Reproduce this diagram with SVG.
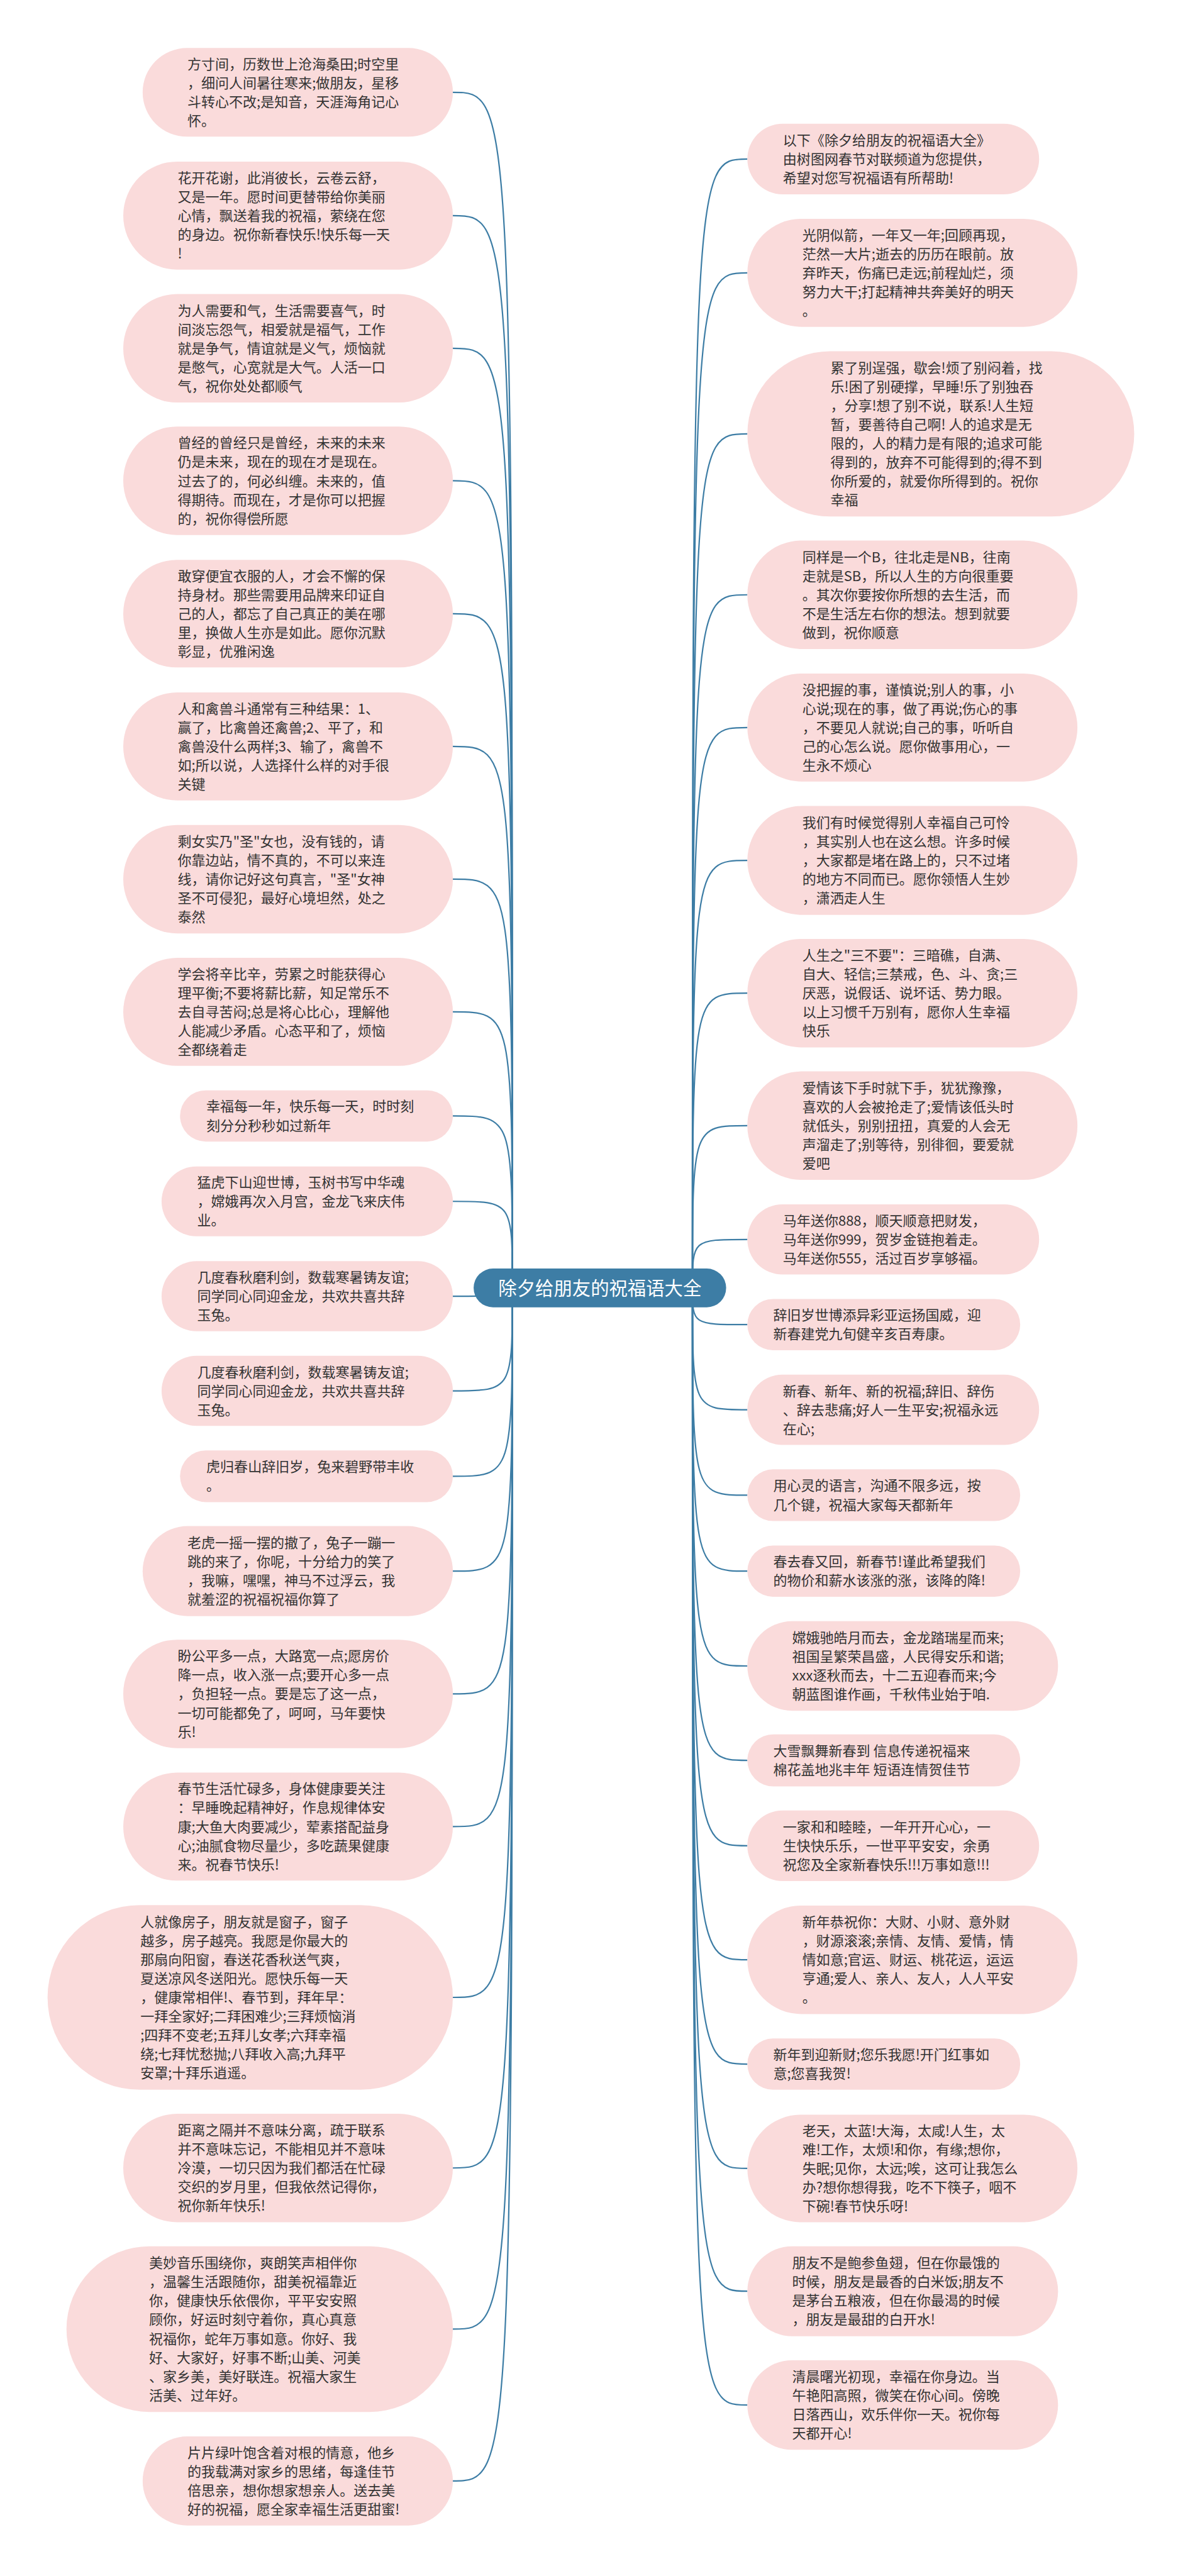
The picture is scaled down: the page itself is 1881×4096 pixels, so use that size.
<svg xmlns="http://www.w3.org/2000/svg" width="1881" height="4096" viewBox="0 0 1881 4096">
<style>
.n rect{fill:#fadbdb}
.n text{font-family:"Noto Sans CJK SC","Noto Sans",sans-serif;font-size:30px;fill:#333}
.c path{fill:none;stroke:#3d7da5;stroke-width:3}
#root rect{fill:#3d7da5}
#root text{font-family:"Noto Sans CJK SC","Noto Sans",sans-serif;font-size:40px;fill:#fff;text-anchor:middle}
</style>
<rect width="1881" height="4096" fill="#fff"/>
<g transform="scale(0.734)">
<g class="c" id="connectors">
<path d="M981,200C1110,200 1110,200 1110,2790"/>
<path d="M981,467C1110,467 1110,467 1110,2790"/>
<path d="M981,754.5C1110,754.5 1110,754.5 1110,2790"/>
<path d="M981,1041.5C1110,1041.5 1110,1041.5 1110,2790"/>
<path d="M981,1329.5C1110,1329.5 1110,1329.5 1110,2790"/>
<path d="M981,1617C1110,1617 1110,1617 1110,2790"/>
<path d="M981,1904.5C1110,1904.5 1110,1904.5 1110,2790"/>
<path d="M981,2192C1110,2192 1110,2192 1110,2790"/>
<path d="M981,2417.5C1110,2417.5 1110,2417.5 1110,2790"/>
<path d="M981,2602.5C1110,2602.5 1110,2602.5 1110,2790"/>
<path d="M981,2808C1110,2808 1110,2808 1110,2790"/>
<path d="M981,3013C1110,3013 1110,3013 1110,2790"/>
<path d="M981,3198C1110,3198 1110,3198 1110,2790"/>
<path d="M981,3403.5C1110,3403.5 1110,3403.5 1110,2790"/>
<path d="M981,3669.5C1110,3669.5 1110,3669.5 1110,2790"/>
<path d="M981,3957C1110,3957 1110,3957 1110,2790"/>
<path d="M981,4327C1110,4327 1110,4327 1110,2790"/>
<path d="M981,4696.5C1110,4696.5 1110,4696.5 1110,2790"/>
<path d="M981,5045.5C1110,5045.5 1110,5045.5 1110,2790"/>
<path d="M981,5374.5C1110,5374.5 1110,5374.5 1110,2790"/>
<path d="M1619,344.5C1500,344.5 1500,344.5 1500,2790"/>
<path d="M1619,591C1500,591 1500,591 1500,2790"/>
<path d="M1619,940C1500,940 1500,940 1500,2790"/>
<path d="M1619,1288.5C1500,1288.5 1500,1288.5 1500,2790"/>
<path d="M1619,1576C1500,1576 1500,1576 1500,2790"/>
<path d="M1619,1864C1500,1864 1500,1864 1500,2790"/>
<path d="M1619,2151.5C1500,2151.5 1500,2151.5 1500,2790"/>
<path d="M1619,2438.5C1500,2438.5 1500,2438.5 1500,2790"/>
<path d="M1619,2685C1500,2685 1500,2685 1500,2790"/>
<path d="M1619,2869.5C1500,2869.5 1500,2869.5 1500,2790"/>
<path d="M1619,3054C1500,3054 1500,3054 1500,2790"/>
<path d="M1619,3239C1500,3239 1500,3239 1500,2790"/>
<path d="M1619,3403.5C1500,3403.5 1500,3403.5 1500,2790"/>
<path d="M1619,3609C1500,3609 1500,3609 1500,2790"/>
<path d="M1619,3813.5C1500,3813.5 1500,3813.5 1500,2790"/>
<path d="M1619,3998.5C1500,3998.5 1500,3998.5 1500,2790"/>
<path d="M1619,4245.5C1500,4245.5 1500,4245.5 1500,2790"/>
<path d="M1619,4471.5C1500,4471.5 1500,4471.5 1500,2790"/>
<path d="M1619,4697.5C1500,4697.5 1500,4697.5 1500,2790"/>
<path d="M1619,4963.5C1500,4963.5 1500,4963.5 1500,2790"/>
<path d="M1619,5210C1500,5210 1500,5210 1500,2790"/>
</g>
<g id="root"><rect x="1026" y="2748" width="547" height="84" rx="42"/><text x="1299.5" y="2805">除夕给朋友的祝福语大全</text></g>

<g class="n" id="L1"><rect x="309" y="104" width="672" height="192" rx="96"/><text x="406" y="149.5"><tspan x="406">方寸间，历数世上沧海桑田;时空里</tspan><tspan x="406" dy="41">，细问人间暑往寒来;做朋友，星移</tspan><tspan x="406" dy="41">斗转心不改;是知音，天涯海角记心</tspan><tspan x="406" dy="41">怀。</tspan></text></g>
<g class="n" id="L2"><rect x="267" y="350" width="714" height="234" rx="117"/><text x="385" y="396"><tspan x="385">花开花谢，此消彼长，云卷云舒，</tspan><tspan x="385" dy="41">又是一年。愿时间更替带给你美丽</tspan><tspan x="385" dy="41">心情，飘送着我的祝福，萦绕在您</tspan><tspan x="385" dy="41">的身边。祝你新春快乐!快乐每一天</tspan><tspan x="385" dy="41">!</tspan></text></g>
<g class="n" id="L3"><rect x="267" y="637" width="714" height="235" rx="117"/><text x="385" y="683.5"><tspan x="385">为人需要和气，生活需要喜气，时</tspan><tspan x="385" dy="41">间淡忘怨气，相爱就是福气，工作</tspan><tspan x="385" dy="41">就是争气，情谊就是义气，烦恼就</tspan><tspan x="385" dy="41">是憋气，心宽就是大气。人活一口</tspan><tspan x="385" dy="41">气，祝你处处都顺气</tspan></text></g>
<g class="n" id="L4"><rect x="267" y="924" width="714" height="235" rx="117"/><text x="385" y="970.5"><tspan x="385">曾经的曾经只是曾经，未来的未来</tspan><tspan x="385" dy="41">仍是未来，现在的现在才是现在。</tspan><tspan x="385" dy="41">过去了的，何必纠缠。未来的，值</tspan><tspan x="385" dy="41">得期待。而现在，才是你可以把握</tspan><tspan x="385" dy="41">的，祝你得偿所愿</tspan></text></g>
<g class="n" id="L5"><rect x="267" y="1213" width="714" height="233" rx="116"/><text x="385" y="1258.5"><tspan x="385">敢穿便宜衣服的人，才会不懈的保</tspan><tspan x="385" dy="41">持身材。那些需要用品牌来印证自</tspan><tspan x="385" dy="41">己的人，都忘了自己真正的美在哪</tspan><tspan x="385" dy="41">里，换做人生亦是如此。愿你沉默</tspan><tspan x="385" dy="41">彰显，优雅闲逸</tspan></text></g>
<g class="n" id="L6"><rect x="267" y="1500" width="714" height="234" rx="117"/><text x="385" y="1546"><tspan x="385">人和禽兽斗通常有三种结果：1、</tspan><tspan x="385" dy="41">赢了，比禽兽还禽兽;2、平了，和</tspan><tspan x="385" dy="41">禽兽没什么两样;3、输了，禽兽不</tspan><tspan x="385" dy="41">如;所以说，人选择什么样的对手很</tspan><tspan x="385" dy="41">关键</tspan></text></g>
<g class="n" id="L7"><rect x="267" y="1787" width="714" height="235" rx="117"/><text x="385" y="1833.5"><tspan x="385">剩女实乃"圣"女也，没有钱的，请</tspan><tspan x="385" dy="41">你靠边站，情不真的，不可以来连</tspan><tspan x="385" dy="41">线，请你记好这句真言，"圣"女神</tspan><tspan x="385" dy="41">圣不可侵犯，最好心境坦然，处之</tspan><tspan x="385" dy="41">泰然</tspan></text></g>
<g class="n" id="L8"><rect x="267" y="2075" width="714" height="234" rx="117"/><text x="385" y="2121"><tspan x="385">学会将辛比辛，劳累之时能获得心</tspan><tspan x="385" dy="41">理平衡;不要将薪比薪，知足常乐不</tspan><tspan x="385" dy="41">去自寻苦闷;总是将心比心，理解他</tspan><tspan x="385" dy="41">人能减少矛盾。心态平和了，烦恼</tspan><tspan x="385" dy="41">全都绕着走</tspan></text></g>
<g class="n" id="L9"><rect x="390" y="2362" width="591" height="111" rx="55.5"/><text x="447" y="2408"><tspan x="447">幸福每一年，快乐每一天，时时刻</tspan><tspan x="447" dy="41">刻分分秒秒如过新年</tspan></text></g>
<g class="n" id="L10"><rect x="350" y="2527" width="631" height="151" rx="75.5"/><text x="427" y="2572.5"><tspan x="427">猛虎下山迎世博，玉树书写中华魂</tspan><tspan x="427" dy="41">，嫦娥再次入月宫，金龙飞来庆伟</tspan><tspan x="427" dy="41">业。</tspan></text></g>
<g class="n" id="L11"><rect x="350" y="2732" width="631" height="152" rx="76"/><text x="427" y="2778"><tspan x="427">几度春秋磨利剑，数载寒暑铸友谊;</tspan><tspan x="427" dy="41">同学同心同迎金龙，共欢共喜共辞</tspan><tspan x="427" dy="41">玉兔。</tspan></text></g>
<g class="n" id="L12"><rect x="350" y="2937" width="631" height="152" rx="76"/><text x="427" y="2983"><tspan x="427">几度春秋磨利剑，数载寒暑铸友谊;</tspan><tspan x="427" dy="41">同学同心同迎金龙，共欢共喜共辞</tspan><tspan x="427" dy="41">玉兔。</tspan></text></g>
<g class="n" id="L13"><rect x="390" y="3142" width="591" height="112" rx="56"/><text x="447" y="3188.5"><tspan x="447">虎归春山辞旧岁，兔来碧野带丰收</tspan><tspan x="447" dy="41">。</tspan></text></g>
<g class="n" id="L14"><rect x="309" y="3306" width="672" height="195" rx="97.5"/><text x="406" y="3353"><tspan x="406">老虎一摇一摆的撤了，兔子一蹦一</tspan><tspan x="406" dy="41">跳的来了，你呢，十分给力的笑了</tspan><tspan x="406" dy="41">，我嘛，嘿嘿，神马不过浮云，我</tspan><tspan x="406" dy="41">就羞涩的祝福祝福你算了</tspan></text></g>
<g class="n" id="L15"><rect x="267" y="3552" width="714" height="235" rx="117"/><text x="385" y="3598.5"><tspan x="385">盼公平多一点，大路宽一点;愿房价</tspan><tspan x="385" dy="41">降一点，收入涨一点;要开心多一点</tspan><tspan x="385" dy="41">，负担轻一点。要是忘了这一点，</tspan><tspan x="385" dy="41">一切可能都免了，呵呵，马年要快</tspan><tspan x="385" dy="41">乐!</tspan></text></g>
<g class="n" id="L16"><rect x="267" y="3840" width="714" height="234" rx="117"/><text x="385" y="3886"><tspan x="385">春节生活忙碌多，身体健康要关注</tspan><tspan x="385" dy="41">：早睡晚起精神好，作息规律体安</tspan><tspan x="385" dy="41">康;大鱼大肉要减少，荤素搭配益身</tspan><tspan x="385" dy="41">心;油腻食物尽量少，多吃蔬果健康</tspan><tspan x="385" dy="41">来。祝春节快乐!</tspan></text></g>
<g class="n" id="L17"><rect x="103" y="4127" width="878" height="400" rx="200"/><text x="304" y="4174"><tspan x="304">人就像房子，朋友就是窗子，窗子</tspan><tspan x="304" dy="41">越多，房子越亮。我愿是你最大的</tspan><tspan x="304" dy="41">那扇向阳窗，春送花香秋送气爽，</tspan><tspan x="304" dy="41">夏送凉风冬送阳光。愿快乐每一天</tspan><tspan x="304" dy="41">，健康常相伴!、春节到，拜年早：</tspan><tspan x="304" dy="41">一拜全家好;二拜困难少;三拜烦恼消</tspan><tspan x="304" dy="41">;四拜不变老;五拜儿女孝;六拜幸福</tspan><tspan x="304" dy="41">绕;七拜忧愁抛;八拜收入高;九拜平</tspan><tspan x="304" dy="41">安罩;十拜乐逍遥。</tspan></text></g>
<g class="n" id="L18"><rect x="267" y="4579" width="714" height="235" rx="117"/><text x="385" y="4625.5"><tspan x="385">距离之隔并不意味分离，疏于联系</tspan><tspan x="385" dy="41">并不意味忘记，不能相见并不意味</tspan><tspan x="385" dy="41">冷漠，一切只因为我们都活在忙碌</tspan><tspan x="385" dy="41">交织的岁月里，但我依然记得你，</tspan><tspan x="385" dy="41">祝你新年快乐!</tspan></text></g>
<g class="n" id="L19"><rect x="144" y="4866" width="837" height="359" rx="179.5"/><text x="323" y="4913"><tspan x="323">美妙音乐围绕你，爽朗笑声相伴你</tspan><tspan x="323" dy="41">，温馨生活跟随你，甜美祝福靠近</tspan><tspan x="323" dy="41">你，健康快乐依偎你，平平安安照</tspan><tspan x="323" dy="41">顾你，好运时刻守着你，真心真意</tspan><tspan x="323" dy="41">祝福你，蛇年万事如意。你好、我</tspan><tspan x="323" dy="41">好、大家好，好事不断;山美、河美</tspan><tspan x="323" dy="41">、家乡美，美好联连。祝福大家生</tspan><tspan x="323" dy="41">活美、过年好。</tspan></text></g>
<g class="n" id="L20"><rect x="309" y="5278" width="672" height="193" rx="96.5"/><text x="406" y="5324"><tspan x="406">片片绿叶饱含着对根的情意，他乡</tspan><tspan x="406" dy="41">的我载满对家乡的思绪，每逢佳节</tspan><tspan x="406" dy="41">倍思亲，想你想家想亲人。送去美</tspan><tspan x="406" dy="41">好的祝福，愿全家幸福生活更甜蜜!</tspan></text></g>

<g class="n" id="R1"><rect x="1619" y="268" width="632" height="153" rx="76.5"/><text x="1696" y="314.5"><tspan x="1696">以下《除夕给朋友的祝福语大全》</tspan><tspan x="1696" dy="41">由树图网春节对联频道为您提供，</tspan><tspan x="1696" dy="41">希望对您写祝福语有所帮助!</tspan></text></g>
<g class="n" id="R2"><rect x="1619" y="474" width="715" height="234" rx="117"/><text x="1738" y="520"><tspan x="1738">光阴似箭，一年又一年;回顾再现，</tspan><tspan x="1738" dy="41">茫然一大片;逝去的历历在眼前。放</tspan><tspan x="1738" dy="41">弃昨天，伤痛已走远;前程灿烂，须</tspan><tspan x="1738" dy="41">努力大干;打起精神共奔美好的明天</tspan><tspan x="1738" dy="41">。</tspan></text></g>
<g class="n" id="R3"><rect x="1619" y="761" width="838" height="358" rx="179"/><text x="1799" y="807.5"><tspan x="1799">累了别逞强，歇会!烦了别闷着，找</tspan><tspan x="1799" dy="41">乐!困了别硬撑，早睡!乐了别独吞</tspan><tspan x="1799" dy="41">，分享!想了别不说，联系!人生短</tspan><tspan x="1799" dy="41">暂，要善待自己啊! 人的追求是无</tspan><tspan x="1799" dy="41">限的，人的精力是有限的;追求可能</tspan><tspan x="1799" dy="41">得到的，放弃不可能得到的;得不到</tspan><tspan x="1799" dy="41">你所爱的，就爱你所得到的。祝你</tspan><tspan x="1799" dy="41">幸福</tspan></text></g>
<g class="n" id="R4"><rect x="1619" y="1171" width="715" height="235" rx="117"/><text x="1738" y="1217.5"><tspan x="1738">同样是一个B，往北走是NB，往南</tspan><tspan x="1738" dy="41">走就是SB，所以人生的方向很重要</tspan><tspan x="1738" dy="41">。其次你要按你所想的去生活，而</tspan><tspan x="1738" dy="41">不是生活左右你的想法。想到就要</tspan><tspan x="1738" dy="41">做到，祝你顺意</tspan></text></g>
<g class="n" id="R5"><rect x="1619" y="1459" width="715" height="234" rx="117"/><text x="1738" y="1505"><tspan x="1738">没把握的事，谨慎说;别人的事，小</tspan><tspan x="1738" dy="41">心说;现在的事，做了再说;伤心的事</tspan><tspan x="1738" dy="41">，不要见人就说;自己的事，听听自</tspan><tspan x="1738" dy="41">己的心怎么说。愿你做事用心，一</tspan><tspan x="1738" dy="41">生永不烦心</tspan></text></g>
<g class="n" id="R6"><rect x="1619" y="1746" width="715" height="236" rx="118"/><text x="1738" y="1793"><tspan x="1738">我们有时候觉得别人幸福自己可怜</tspan><tspan x="1738" dy="41">，其实别人也在这么想。许多时候</tspan><tspan x="1738" dy="41">，大家都是堵在路上的，只不过堵</tspan><tspan x="1738" dy="41">的地方不同而已。愿你领悟人生妙</tspan><tspan x="1738" dy="41">，潇洒走人生</tspan></text></g>
<g class="n" id="R7"><rect x="1619" y="2034" width="715" height="235" rx="117"/><text x="1738" y="2080.5"><tspan x="1738">人生之"三不要"：三暗礁，自满、</tspan><tspan x="1738" dy="41">自大、轻信;三禁戒，色、斗、贪;三</tspan><tspan x="1738" dy="41">厌恶，说假话、说坏话、势力眼。</tspan><tspan x="1738" dy="41">以上习惯千万别有，愿你人生幸福</tspan><tspan x="1738" dy="41">快乐</tspan></text></g>
<g class="n" id="R8"><rect x="1619" y="2321" width="715" height="235" rx="117"/><text x="1738" y="2367.5"><tspan x="1738">爱情该下手时就下手，犹犹豫豫，</tspan><tspan x="1738" dy="41">喜欢的人会被抢走了;爱情该低头时</tspan><tspan x="1738" dy="41">就低头，别别扭扭，真爱的人会无</tspan><tspan x="1738" dy="41">声溜走了;别等待，别徘徊，要爱就</tspan><tspan x="1738" dy="41">爱吧</tspan></text></g>
<g class="n" id="R9"><rect x="1619" y="2609" width="632" height="152" rx="76"/><text x="1696" y="2655"><tspan x="1696">马年送你888，顺天顺意把财发，</tspan><tspan x="1696" dy="41">马年送你999，贺岁金链抱着走。</tspan><tspan x="1696" dy="41">马年送你555，活过百岁享够福。</tspan></text></g>
<g class="n" id="R10"><rect x="1619" y="2814" width="591" height="111" rx="55.5"/><text x="1675" y="2860"><tspan x="1675">辞旧岁世博添异彩亚运扬国威，迎</tspan><tspan x="1675" dy="41">新春建党九旬健辛亥百寿康。</tspan></text></g>
<g class="n" id="R11"><rect x="1619" y="2978" width="632" height="152" rx="76"/><text x="1696" y="3024"><tspan x="1696">新春、新年、新的祝福;辞旧、辞伤</tspan><tspan x="1696" dy="41">、辞去悲痛;好人一生平安;祝福永远</tspan><tspan x="1696" dy="41">在心;</tspan></text></g>
<g class="n" id="R12"><rect x="1619" y="3183" width="591" height="112" rx="56"/><text x="1675" y="3229.5"><tspan x="1675">用心灵的语言，沟通不限多远，按</tspan><tspan x="1675" dy="41">几个键，祝福大家每天都新年</tspan></text></g>
<g class="n" id="R13"><rect x="1619" y="3348" width="591" height="111" rx="55.5"/><text x="1675" y="3394"><tspan x="1675">春去春又回，新春节!谨此希望我们</tspan><tspan x="1675" dy="41">的物价和薪水该涨的涨，该降的降!</tspan></text></g>
<g class="n" id="R14"><rect x="1619" y="3512" width="673" height="194" rx="97"/><text x="1716" y="3558.5"><tspan x="1716">嫦娥驰皓月而去，金龙踏瑞星而来;</tspan><tspan x="1716" dy="41">祖国呈繁荣昌盛，人民得安乐和谐;</tspan><tspan x="1716" dy="41">xxx逐秋而去，十二五迎春而来;今</tspan><tspan x="1716" dy="41">朝蓝图谁作画，千秋伟业始于咱.</tspan></text></g>
<g class="n" id="R15"><rect x="1619" y="3757" width="591" height="113" rx="56.5"/><text x="1675" y="3804"><tspan x="1675">大雪飘舞新春到 信息传递祝福来</tspan><tspan x="1675" dy="41">棉花盖地兆丰年 短语连情贺佳节</tspan></text></g>
<g class="n" id="R16"><rect x="1619" y="3922" width="632" height="153" rx="76.5"/><text x="1696" y="3968.5"><tspan x="1696">一家和和睦睦，一年开开心心，一</tspan><tspan x="1696" dy="41">生快快乐乐，一世平平安安，余勇</tspan><tspan x="1696" dy="41">祝您及全家新春快乐!!!万事如意!!!</tspan></text></g>
<g class="n" id="R17"><rect x="1619" y="4128" width="715" height="235" rx="117"/><text x="1738" y="4174.5"><tspan x="1738">新年恭祝你：大财、小财、意外财</tspan><tspan x="1738" dy="41">，财源滚滚;亲情、友情、爱情，情</tspan><tspan x="1738" dy="41">情如意;官运、财运、桃花运，运运</tspan><tspan x="1738" dy="41">亨通;爱人、亲人、友人，人人平安</tspan><tspan x="1738" dy="41">。</tspan></text></g>
<g class="n" id="R18"><rect x="1619" y="4416" width="591" height="111" rx="55.5"/><text x="1675" y="4462"><tspan x="1675">新年到迎新财;您乐我愿!开门红事如</tspan><tspan x="1675" dy="41">意;您喜我贺!</tspan></text></g>
<g class="n" id="R19"><rect x="1619" y="4581" width="715" height="233" rx="116"/><text x="1738" y="4626.5"><tspan x="1738">老天，太蓝!大海，太咸!人生，太</tspan><tspan x="1738" dy="41">难!工作，太烦!和你，有缘;想你，</tspan><tspan x="1738" dy="41">失眠;见你，太远;唉，这可让我怎么</tspan><tspan x="1738" dy="41">办?想你想得我，吃不下筷子，咽不</tspan><tspan x="1738" dy="41">下碗!春节快乐呀!</tspan></text></g>
<g class="n" id="R20"><rect x="1619" y="4866" width="673" height="195" rx="97.5"/><text x="1716" y="4913"><tspan x="1716">朋友不是鲍参鱼翅，但在你最饿的</tspan><tspan x="1716" dy="41">时候，朋友是最香的白米饭;朋友不</tspan><tspan x="1716" dy="41">是茅台五粮液，但在你最渴的时候</tspan><tspan x="1716" dy="41">，朋友是最甜的白开水!</tspan></text></g>
<g class="n" id="R21"><rect x="1619" y="5113" width="673" height="194" rx="97"/><text x="1716" y="5159.5"><tspan x="1716">清晨曙光初现，幸福在你身边。当</tspan><tspan x="1716" dy="41">午艳阳高照，微笑在你心间。傍晚</tspan><tspan x="1716" dy="41">日落西山，欢乐伴你一天。祝你每</tspan><tspan x="1716" dy="41">天都开心!</tspan></text></g>
</g>
</svg>
